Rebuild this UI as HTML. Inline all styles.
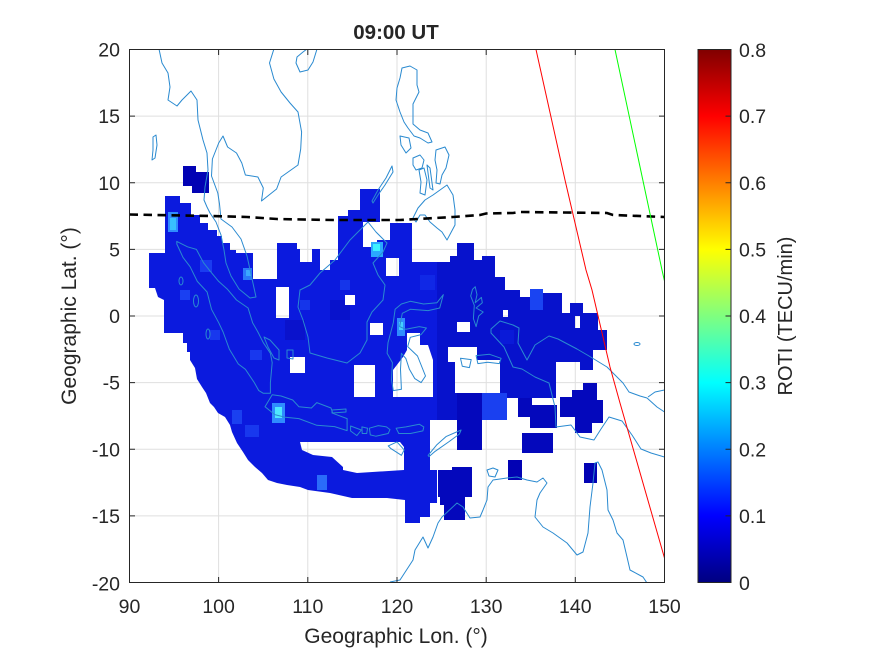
<!DOCTYPE html>
<html><head><meta charset="utf-8"><style>
html,body{margin:0;padding:0;background:#fff;}
svg{display:block;}
text{font-family:"Liberation Sans",Arial,sans-serif;fill:#262626;}
</style></head><body>
<svg width="875" height="656" viewBox="0 0 875 656" xmlns="http://www.w3.org/2000/svg">
<defs>
<clipPath id="ax"><rect x="129.5" y="49.5" width="535" height="533"/></clipPath>
<linearGradient id="jet" x1="0" y1="1" x2="0" y2="0">
<stop offset="0" stop-color="#000080"/><stop offset="0.125" stop-color="#0000ff"/>
<stop offset="0.375" stop-color="#00ffff"/><stop offset="0.625" stop-color="#ffff00"/>
<stop offset="0.875" stop-color="#ff0000"/><stop offset="1" stop-color="#800000"/>
</linearGradient>
<mask id="holes" maskUnits="userSpaceOnUse" x="0" y="0" width="875" height="656">
<rect x="0" y="0" width="875" height="656" fill="#fff"/>
<g fill="#000">
<polygon points="300,442 400,442 404,447 404,470 357,473 343,470 343,467 332,457 313,455 302,450"/>
<polygon points="407,333 420,333 420,345 428,345 433,360 433,397 393,397 393,370 403,357 407,350"/>
<polygon points="448,347 477,347 477,360 500,360 500,393 455,393 455,362 448,362"/>
<rect x="300" y="249" width="12" height="13"/>
<rect x="386" y="258" width="13" height="18"/>
<rect x="276" y="287" width="13" height="31"/>
<rect x="290" y="357" width="15" height="16"/>
<rect x="354" y="365" width="21" height="32"/>
<rect x="345" y="295" width="10" height="10"/>
<rect x="457" y="322" width="13" height="10"/>
<rect x="370" y="323" width="13" height="12"/>
<rect x="503" y="310" width="5" height="7"/>
<rect x="575" y="316" width="5" height="12"/>
</g>
</mask>
</defs>
<rect x="0" y="0" width="875" height="656" fill="#fff"/>

<g stroke="#dfdfdf" stroke-width="1" fill="none">
<path d="M218.6,49.5V582.5M307.8,49.5V582.5M397,49.5V582.5M486.2,49.5V582.5M575.3,49.5V582.5"/>
<path d="M129.5,116.1H664.5M129.5,182.8H664.5M129.5,249.4H664.5M129.5,316H664.5M129.5,382.6H664.5M129.5,449.3H664.5M129.5,515.9H664.5"/>
</g>

<g clip-path="url(#ax)">
<g mask="url(#holes)">
<polygon fill="#0b1ade" points="165,196 180,196 180,203 191,203 191,215 200,215 200,223 208,223 208,230 217,230 217,236 222,236 222,243 230,243 230,250 236,250 236,253 253,253 253,279 277,279 277,243 297,243 297,249 320,249 320,270 330,270 330,260 338,260 338,216 348,216 348,210 360,210 360,189 380,189 380,222 363,222 363,247 377,247 377,240 390,240 390,223 412,223 412,262 440,262 440,420 430,420 430,470 437,470 437,503 430,503 430,517 420,517 420,523 405,523 405,500 387,498 352,498 330,493 308,490 300,487 287,485 277,483 268,480 262,473 255,467 248,460 243,452 237,443 232,432 230,425 225,417 218,413 214,407 210,403 206,393 202,387 197,379 195,368 190,360 190,352 187,352 187,343 183,343 183,333 164,333 164,300 158,297 155,288 149,288 149,253 165,253"/>
<polygon fill="#0712cc" points="422,262 450,262 450,256 457,256 457,243 474,243 474,260 482,260 482,256 495,256 495,277 505,277 505,290 520,290 520,297 530,297 530,289 543,289 543,293 562,293 562,313 570,313 570,303 583,303 583,313 598,313 598,330 607,330 607,350 593,350 593,370 580,370 580,362 556,362 556,398 500,398 500,420 437,420 437,262"/>
<g fill="#0408bc">
<rect x="457" y="393" width="25" height="57"/>
<rect x="518" y="398" width="14" height="19"/>
<rect x="530" y="405" width="27" height="23"/>
<rect x="522" y="433" width="31" height="20"/>
<polygon points="560,397 572,397 572,390 583,390 583,383 597,383 597,400 603,400 603,423 592,423 592,433 575,433 575,417 560,417"/>
<polygon points="438,470 452,470 452,467 472,467 472,497 465,497 465,520 444,520 444,505 440,505 440,497 438,497"/>
</g>
<g fill="#0202b4">
<polygon points="183,166 196,166 196,172 209,172 209,193 192,193 192,186 183,186"/>
<rect x="508" y="460" width="14" height="20"/>
<rect x="584" y="463" width="13" height="20"/>
</g>
<g>
<rect x="482" y="393" width="25" height="27" fill="#1a40f0"/>
<rect x="530" y="289" width="13" height="21" fill="#1a44f2"/>
<rect x="200" y="260" width="12" height="12" fill="#1a3cf0"/>
<rect x="180" y="290" width="10" height="10" fill="#1a40f2"/>
<rect x="210" y="330" width="10" height="10" fill="#1838ee"/>
<rect x="250" y="350" width="12" height="10" fill="#1838ee"/>
<rect x="300" y="300" width="10" height="10" fill="#1535ea"/>
<rect x="340" y="280" width="10" height="10" fill="#1535ea"/>
<rect x="232" y="410" width="10" height="14" fill="#1a40f0"/>
<rect x="245" y="425" width="14" height="12" fill="#1838ee"/>
<rect x="330" y="300" width="20" height="20" fill="#0812cc"/>
<rect x="285" y="320" width="20" height="20" fill="#0a12cc"/>
<rect x="420" y="275" width="15" height="15" fill="#1028e6"/>
<rect x="500" y="330" width="14" height="14" fill="#0a1ad8"/>
<rect x="168" y="212" width="10" height="20" fill="#2f8cff"/>
<rect x="170" y="218" width="6" height="12" fill="#38c0ff"/>
<rect x="243" y="268" width="9" height="12" fill="#2a78fb"/>
<rect x="246" y="270" width="5" height="6" fill="#3aa8ff"/>
<rect x="371" y="242" width="12" height="15" fill="#2aa8ff"/>
<rect x="373" y="244" width="7" height="7" fill="#3ef0ff"/>
<rect x="397" y="318" width="8" height="18" fill="#2f8cff"/>
<rect x="399" y="322" width="4" height="8" fill="#44d0ff"/>
<rect x="272" y="403" width="13" height="20" fill="#2f8cff"/>
<rect x="275" y="407" width="7" height="11" fill="#4ee8ff"/>
<rect x="317" y="475" width="10" height="15" fill="#2a6cfa"/>
</g>
</g>

<g fill="none" stroke="#2a8ad0" stroke-width="1" stroke-linejoin="round">
<polyline points="159,49 162,63 168,73 170,87 168,100 177,106 182,100 191,91 197,100 198,120 203,140 207,153 208,170 205,187 204,200 207,207 210,213 216,222 221,235 224,250 226,263 231,276 239,289 250,298 256,297 249,265 247,256 241,239 232,227 221,219 219.5,204 217.8,193 211.5,176 212.4,159 218.7,143 223,136 227.6,147 236.5,153 241.8,163 245.4,175 257.9,177 263.3,188 261.5,201 276.6,189 281.1,177 298,165 300.7,149 301.6,132 298,112 290,103 281.1,92 273.9,79 269.5,63 273.9,49"/>
<path d="M317,49 L313,62 308,70 300,72 296,63 297,57 303,52 307,49"/>
<path d="M153,137 L156,135 157,145 155,158 152,160 153,150 Z"/>
<path d="M176.8,241.4 L187.5,246.8 196.4,249.4 203.5,262.7 209.8,270.7 218.7,281.4 227.6,289.4 236.5,300 248.1,308 252.6,322.7 257.9,332 263.3,342.7 270.4,353.3 272.2,362.6 270.4,382.6 270.4,393.3 263.3,393.3 258.8,390.6 254.3,382.6 245.4,369.3 238.3,364 229.4,349.3 223.1,332 218.7,322.7 211.5,309.3 207.1,292 197.3,281.4 190.1,266.7 183,257.4 176.8,244 Z"/>
<ellipse cx="181" cy="281" rx="2" ry="4"/><ellipse cx="196" cy="301" rx="2.5" ry="6"/><ellipse cx="208" cy="334" rx="2" ry="5"/>
<path d="M264,337 L270,340 279,350 279,360 274,358 268,347 Z"/>
<path d="M287,350 L293,350 293,359 287,358 Z"/>
<path d="M265,406.7 L272.2,394.7 281.1,396 292.7,400 298.9,406.7 311.4,408 316.8,402.6 331,408 332.8,413.3 347.1,418.6 347.1,430.6 334.6,426.6 316.8,425.3 298.9,418.6 285.5,417.3 274.8,414.6 Z"/>
<path d="M332,410 L346,409 346,412 332,413 Z"/>
<path d="M350.6,426 L361.3,430 356.9,435.6 350.6,431 Z"/>
<path d="M361.9,426.9 L367.6,428.2 366.7,433.5 362.2,433.5 Z"/>
<path d="M369.4,428.2 L378.3,425.6 386.4,426.9 390,429.6 388.2,433.5 375.7,436.2 370.3,434.9 Z"/>
<path d="M396.1,428.2 L406,426.9 419.3,424.2 423.8,426.9 422.9,430.9 410.4,433.5 398.8,433.5 Z"/>
<path d="M388.2,445.9 L397,441.9 404.2,449.9 401.4,455.3 390.9,448.6 Z"/>
<path d="M428.1,455.3 L437,444.6 446,436.6 461.1,430 459.4,434 448.7,441.9 435.2,451.3 429,456.6 Z"/>
<path d="M368,222 L376,232 387,243 383,252 373,263 378,275 385,285 383,300 372,312 367,322 367,340 360,353 347,363 327,358 310,353 308,337 303,320 298,307 300,290 310,285 320,273 335,260 350,240 358,232 Z"/>
<path d="M392,166 L393,172 385,185 378,195 373,203 372,201 378,190 386,178 Z"/>
<path d="M393.3,322.7 L395.1,309.3 401.4,304 410.3,301.3 423.6,304 437,302.7 443.3,294.7 439.7,308 428.1,310.6 410.3,309.3 402.3,313.3 399.6,326.6 405.9,329.3 419.3,326.6 426.4,328 421.1,334.6 410.3,337.3 407.7,346.6 417.5,356 425.5,376 421.1,382.6 414.8,378.6 409.4,369.3 405.9,358.6 401.4,353.3 400.5,369.3 401.4,389.3 393.3,390.6 391.5,379.9 392.4,362.6 387.1,353.3 388,342.7 Z"/>
<path d="M475.2,286.7 L477,294.7 475.2,302.7 481.4,297.4 482.3,302.7 476.1,308 483.2,312 478.7,316 476.1,326.6 473.4,318.6 474.3,305.3 470.7,296 472.5,289.4 Z"/>
<path d="M476.1,355.6 L489.5,354.3 501.1,358.3 499.3,363.6 487.7,362.3 477.9,363.6 Z"/>
<path d="M460.5,358.3 L471.2,359.6 469.4,367.6 462.3,366.3 Z"/>
<path d="M402,68 L410,66 417,70 417,85 419,92 413,104 413,124 420,130 428,133 432,142 428,143 420,138 414,136 408,128 404,122 400,112 396,100 397,88 400,78 Z"/>
<path d="M400,136 L409,138 411,148 406,153 401,145 Z"/>
<path d="M413,158 L420,155 424,160 422,168 416,170 413,165 Z"/>
<path d="M419,170 L424,168 427,180 425,195 420,193 421,182 Z"/>
<path d="M427,165 L430,168 433,190 430,188 Z"/>
<path d="M436,150 L445,147 449,155 446,168 442,175 440,184 436,183 437,170 435,160 Z"/>
<path d="M418,208 L425,200 433,195 440,190 447,185 453,195 455,210 455,225 447,240 442,232 437,228 430,222 425,215 420,215 416,222 413,218 Z"/>
<polyline points="664.5,457 651,453 641,449 632,435 622,421 609,417 601,429 594,440 580,437 571,425 556,427 555,407 549,383 535,377 522,369 513,367 504,347 491,333 491,329 500,321 513,325 519,328 518,343 527,360 535,345 549,336 558,339 577,349 589,356 607,367 623,383 629,392 640,396 647,398 657,407 664.5,412"/>
<polyline points="648,397 655,392 664.5,390"/>
<ellipse cx="637" cy="344" rx="3" ry="1.5"/>
<polyline points="390,582 400,580 413,560 415,550 423,537 428,548 433,537 438,523 442,517 457,503 463,507 470,518 480,517 483,510 487,500 488,487 493,480 507,478 517,477 527,480 537,482 543,478 547,483 540,493 537,500 535,517 543,527 553,533 567,543 577,555 583,552 588,533 590,507 593,483 595,463 598,462 602,470 607,490 608,510 613,520 617,533 623,540 627,557 630,570 643,577 647,583"/>
<path d="M487,470 L493,468 498,470 495,477 489,476 Z"/>
</g>

<polyline fill="none" stroke="#000" stroke-width="2.6" stroke-dasharray="8.5 5.5" points="129.5,214.5 210,216 247,217 277,219 333,220 400,220 453,217 480,215 486,213.5 513,213 520,212 607,213 613,215 664.5,217"/>
<polyline fill="none" stroke="#ff0000" stroke-width="1" points="536,49.5 565,180 586,270 592,290 610,367 620,403 664.5,558"/>
<polyline fill="none" stroke="#00ff00" stroke-width="1" points="615,49.5 662,270 664.5,281"/>
</g>

<g stroke="#262626" stroke-width="1" fill="none">
<rect x="129.5" y="49.5" width="535" height="533"/>
<path d="M218.6,582.5v-5.5M307.8,582.5v-5.5M397,582.5v-5.5M486.2,582.5v-5.5M575.3,582.5v-5.5M218.6,49.5v5.5M307.8,49.5v5.5M397,49.5v5.5M486.2,49.5v5.5M575.3,49.5v5.5"/>
<path d="M129.5,116.1h5.5M129.5,182.8h5.5M129.5,249.4h5.5M129.5,316h5.5M129.5,382.6h5.5M129.5,449.3h5.5M129.5,515.9h5.5M664.5,116.1h-5.5M664.5,182.8h-5.5M664.5,249.4h-5.5M664.5,316h-5.5M664.5,382.6h-5.5M664.5,449.3h-5.5M664.5,515.9h-5.5"/>
</g>

<g font-size="19.5" text-anchor="middle">
<text x="129.5" y="613">90</text><text x="218.6" y="613">100</text><text x="307.8" y="613">110</text>
<text x="397" y="613">120</text><text x="486.2" y="613">130</text><text x="575.3" y="613">140</text><text x="664.5" y="613">150</text>
</g>
<g font-size="19.5" text-anchor="end">
<text x="120" y="56.5">20</text><text x="120" y="123.1">15</text><text x="120" y="189.8">10</text>
<text x="120" y="256.4">5</text><text x="120" y="323">0</text><text x="120" y="389.6">-5</text>
<text x="120" y="456.3">-10</text><text x="120" y="522.9">-15</text><text x="120" y="590.5">-20</text>
</g>

<text x="396" y="39" font-size="20.5" font-weight="bold" text-anchor="middle">09:00 UT</text>
<text x="396" y="643" font-size="21" text-anchor="middle">Geographic Lon. (°)</text>
<text transform="translate(76,316) rotate(-90)" font-size="21" text-anchor="middle">Geographic Lat. (°)</text>

<rect x="698" y="49.5" width="33" height="533" fill="url(#jet)"/>
<g stroke="#262626" stroke-width="1" fill="none">
<rect x="698" y="49.5" width="33" height="533"/>
<path d="M731,515.9h-5.5M731,449.3h-5.5M731,382.6h-5.5M731,316h-5.5M731,249.4h-5.5M731,182.8h-5.5M731,116.1h-5.5"/>
</g>
<g font-size="19.5">
<text x="739" y="590">0</text><text x="739" y="522.9">0.1</text><text x="739" y="456.3">0.2</text>
<text x="739" y="389.6">0.3</text><text x="739" y="323">0.4</text><text x="739" y="256.4">0.5</text>
<text x="739" y="189.8">0.6</text><text x="739" y="123.1">0.7</text><text x="739" y="57">0.8</text>
</g>
<text transform="translate(792,316) rotate(-90)" font-size="20" text-anchor="middle">ROTI (TECU/min)</text>
</svg>
</body></html>
